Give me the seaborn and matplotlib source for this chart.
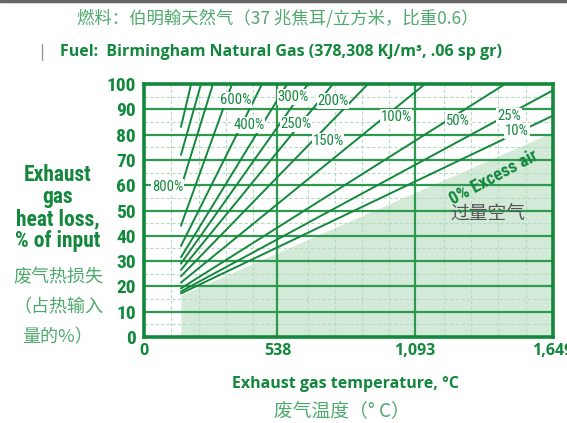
import numpy as np
import pandas as pd
import matplotlib
matplotlib.use("Agg")
import matplotlib.pyplot as plt
from matplotlib.lines import Line2D
from matplotlib import font_manager as fm
import seaborn as sns

# ---------------- data ----------------
line_labels = ["A", "B", "800%", "600%", "400%", "300%", "250%", "200%",
               "150%", "100%", "50%", "25%", "10%"]
start_temp = [149, 149, 149, 149, 149, 149, 149, 149, 149, 149, 149, 149, 149]
start_loss = [83, 72, 59, 44, 36, 31.5, 29, 26.5, 24, 21.5, 19.2, 18.0, 17.2]
end_temp = [190, 230, 278, 355, 476, 577, 661, 762, 903, 1133, 1456, 1649, 1649]
end_loss = [100, 100, 100, 100, 100, 100, 100, 100, 100, 100, 100, 97.5, 87.5]

zero_air_temp = [149, 1649]
zero_air_loss = [16.6, 81.0]

tag_text = ["800%", "600%", "400%", "300%", "250%", "200%", "150%", "100%",
            "50%", "25%", "10%"]
tag_temp = [95, 371, 423, 601, 613, 762, 742, 1016, 1266, 1472, 1504]
tag_loss = [59.3, 93.7, 83.8, 94.9, 84.2, 93.3, 77.5, 87.0, 85.4, 87.4, 81.4]

x_ticks = [0, 538, 1093, 1649]
x_tick_labels = ["0", "538", "1,093", "1,649"]
y_ticks = [0, 10, 20, 30, 40, 50, 60, 70, 80, 90, 100]

title_cn = "燃料：伯明翰天然气（37 兆焦耳/立方米，比重0.6）"
title_en = "Fuel:  Birmingham Natural Gas (378,308 KJ/m³, .06 sp gr)"
ylabel_en = "Exhaust\ngas\nheat loss,\n% of input"
ylabel_cn = ["废气热损失", "（占热输入", "量的%）"]
xlabel_en = "Exhaust gas temperature, °C"
xlabel_cn = "废气温度（° C）"

# ---------------- style ----------------
sns.set_theme(style="white")
plt.rcParams["font.family"] = ["DejaVu Sans", "Noto Sans CJK SC"]

names = {f.name for f in fm.fontManager.ttflist}
cond_candidates = ["Liberation Sans Narrow", "DejaVu Sans Condensed",
                   "Roboto Condensed", "Open Sans Condensed", "Noto Sans"]
NARROW_FAM = "DejaVu Sans"
for c in cond_candidates:
    if c in names:
        NARROW_FAM = c
        break
NARROW = [NARROW_FAM, "DejaVu Sans"]
STRETCH = "condensed"

GREEN = "#13883d"
GRID = "#2e9a50"
MINOR = "#b3dbbd"
SHADE = "#d4ead9"
CN_GREEN = "#4fa96e"
CN = ["Noto Sans CJK SC", "DejaVu Sans"]

W, H = 567, 423
fig = plt.figure(figsize=(W / 100, H / 100), dpi=100)
ax = fig.add_axes([144 / W, 1 - 337 / H, (553 - 144) / W, (337 - 84) / H])

rows = []
for lab, t0, l0, t1, l1 in zip(line_labels, start_temp, start_loss, end_temp, end_loss):
    rows.append({"line": lab, "temp": t0, "loss": l0})
    rows.append({"line": lab, "temp": t1, "loss": l1})
df = pd.DataFrame(rows)

ax.fill_between(zero_air_temp, 0, zero_air_loss, color=SHADE, lw=0, zorder=0.5)

for y in np.arange(5, 100, 10):
    ax.axhline(y, color=MINOR, lw=0.8, ls=(0, (3, 2)), zorder=1)
for y in range(10, 100, 10):
    ax.axhline(y, color=GRID, lw=1.6, zorder=1.2)
for k in range(1, 15):
    if k % 5 == 0:
        continue
    ax.axvline(k * 1649 / 15, color=MINOR, lw=0.8, ls=(0, (3, 2)), zorder=1)
for x in (538, 1093):
    ax.axvline(x, color=GRID, lw=1.6, zorder=1.2)

sns.lineplot(data=df, x="temp", y="loss", units="line", estimator=None,
             color=GREEN, lw=1.4, ax=ax, zorder=3, legend=False)

for t, xv, yv in zip(tag_text, tag_temp, tag_loss):
    ax.text(xv, yv, t, family=NARROW, fontstretch=STRETCH, fontsize=10.5, color=GREEN,
            ha="center", va="center", zorder=4,
            bbox=dict(boxstyle="square,pad=0.05", fc="white", ec="none"))

ax.text(1410, 63, "0% Excess air", family=NARROW, fontstretch=STRETCH, fontsize=13,
        fontweight="bold", color=GREEN, rotation=28, ha="center", va="center", zorder=4)
ax.text(1385, 49, "过量空气", family=CN, fontsize=13.5, color="#555555",
        ha="center", va="center", zorder=4)

ax.set_xlim(0, 1649)
ax.set_ylim(0, 100)
ax.set_xticks(x_ticks)
ax.set_xticklabels(x_tick_labels)
ax.set_yticks(y_ticks)
ax.set_xlabel("")
ax.set_ylabel("")
ax.tick_params(axis="both", length=0, colors=GREEN)
ax.tick_params(axis="x", pad=4)
ax.tick_params(axis="y", pad=6)
for lab in ax.get_yticklabels():
    lab.set_family(NARROW)
    lab.set_fontstretch(STRETCH)
    lab.set_fontsize(14)
    lab.set_fontweight("bold")
for lab in ax.get_xticklabels():
    lab.set_family(["Open Sans", "DejaVu Sans"])
    lab.set_fontsize(11.5)
    lab.set_fontweight("bold")
for s in ax.spines.values():
    s.set_color(GREEN)
    s.set_linewidth(2.6)
    s.set_visible(True)


def fx(x):
    return x / W


def fy(y):
    return 1 - y / H


fig.add_artist(Line2D([0, 1], [fy(1), fy(1)], color="#666666", lw=2.5))
fig.add_artist(Line2D([fx(42), fx(42)], [fy(44), fy(60)], color="#999999", lw=1))

fig.text(fx(278), fy(18), title_cn, family=CN, fontsize=12.5, color=CN_GREEN,
         ha="center", va="center")
fig.text(fx(281), fy(52), title_en, family=["Open Sans", "DejaVu Sans"], fontsize=11.5,
         fontweight="bold", color=GREEN, ha="center", va="center")
fig.text(fx(58), fy(208), ylabel_en, family=NARROW, fontstretch=STRETCH, fontsize=15.5,
         fontweight="bold", color=GREEN, ha="center", va="center", linespacing=1.0)
for i, s in enumerate(ylabel_cn):
    fig.text(fx(58), fy(277 + 30 * i), s, family=CN, fontsize=13, color=CN_GREEN,
             ha="center", va="center")
fig.text(fx(345), fy(384), xlabel_en, family=["Open Sans", "DejaVu Sans"], fontsize=11.5,
         fontweight="bold", color=GREEN, ha="center", va="center")
fig.text(fx(342), fy(411), xlabel_cn, family=CN, fontsize=13.5, color=CN_GREEN,
         ha="center", va="center")

fig.savefig("out.png", dpi=100)
